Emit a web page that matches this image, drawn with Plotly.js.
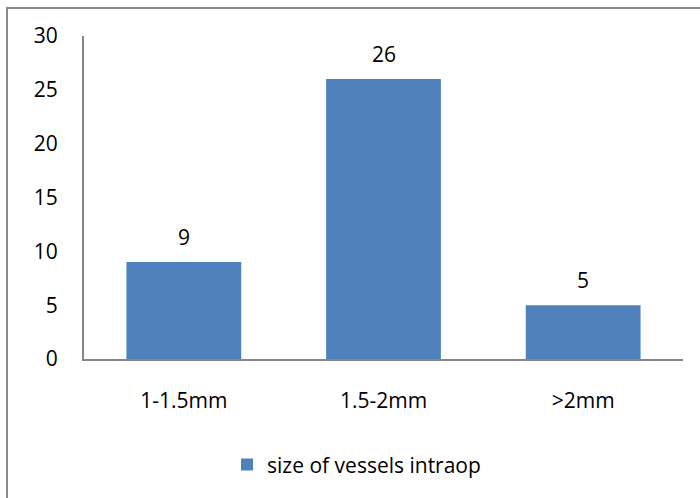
<!DOCTYPE html>
<html>
<head>
<meta charset="utf-8">
<script src="https://cdn.plot.ly/plotly-3.0.1.min.js"></script>
<style>
  html, body { margin: 0; padding: 0; width: 700px; height: 498px; overflow: hidden; background: #fff; }
  #frame { position: absolute; left: 6px; top: 7px; width: 800px; height: 700px; border: 2px solid #8a8a8a; }
  #chart { position: absolute; left: 0; top: 0; width: 700px; height: 498px; }
</style>
</head>
<body>
<div id="frame"></div>
<div id="chart"></div>
<script>
// Vessel size categories and counts
const categories = ["1-1.5mm", "1.5-2mm", ">2mm"];
const counts = [9, 26, 5];
const seriesName = "size of vessels intraop";
const yTicks = [0, 5, 10, 15, 20, 25, 30];

const font = { family: "Open Sans, Liberation Sans, sans-serif", size: 21, color: "#000" };

const trace = {
  type: "bar",
  x: categories,
  y: counts,
  name: seriesName,
  marker: { color: "#4f81bd" },
  width: 0.575,
  showlegend: true
};

// Value labels sit a little above each bar
const valueLabels = categories.map((c, i) => ({
  x: c, y: counts[i], xref: "x", yref: "y",
  text: String(counts[i]), showarrow: false,
  yanchor: "middle", yshift: 25, font: font
}));

const layout = {
  width: 700,
  height: 498,
  margin: { l: 84, r: 17, t: 36, b: 139 },
  paper_bgcolor: "rgba(0,0,0,0)",
  plot_bgcolor: "rgba(0,0,0,0)",
  font: font,
  annotations: valueLabels,
  xaxis: {
    showline: true, linecolor: "#868686", linewidth: 2,
    showgrid: false, zeroline: false, ticks: "",
    tickfont: font, ticklabelstandoff: 22
  },
  yaxis: {
    range: [0, 30], tickvals: yTicks,
    showline: true, linecolor: "#868686", linewidth: 2,
    showgrid: false, zeroline: false, ticks: "",
    tickfont: font, ticklabelstandoff: 20
  },
  showlegend: true,
  legend: {
    orientation: "h", x: 0.455, xanchor: "center", y: -0.328, yanchor: "middle",
    itemwidth: 30, font: font, bgcolor: "rgba(0,0,0,0)"
  }
};

Plotly.newPlot("chart", [trace], layout, { displayModeBar: false, staticPlot: true });
</script>
</body>
</html>
